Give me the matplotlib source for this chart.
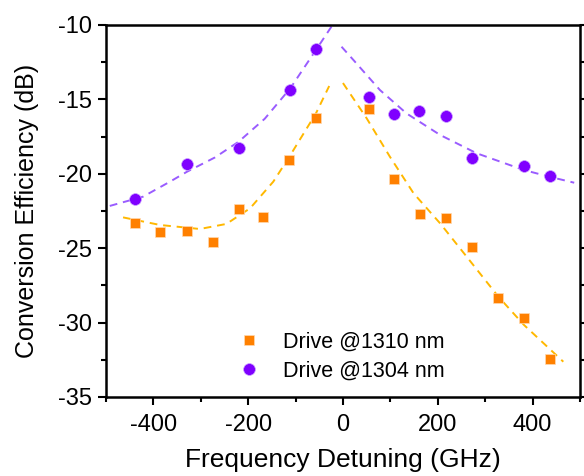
import matplotlib
matplotlib.use('Agg')
import matplotlib.pyplot as plt
from matplotlib.ticker import MultipleLocator

plt.rcParams['font.family'] = ['Liberation Sans', 'DejaVu Sans']
plt.rcParams['axes.unicode_minus'] = False

COLORS = {'1310': '#FF8000', '1304': '#7F00FF',
          'fit1310': '#FFB800', 'fit1304': '#9A5CFF'}

# measured points
det_1310 = [-439, -386, -329, -275, -220, -168, -113, -57, 54, 108, 162, 218, 272, 328, 382, 436]
eff_1310 = [-23.33, -23.89, -23.84, -24.58, -22.37, -22.88, -19.1, -16.25,
            -15.62, -20.37, -22.68, -22.95, -24.9, -28.33, -29.69, -32.47]

det_1304 = [-439, -329, -220, -111, -57, 54, 108, 161, 217, 272, 381, 436]
eff_1304 = [-21.67, -19.34, -18.25, -14.35, -11.6, -14.84, -15.96, -15.78,
            -16.09, -18.94, -19.48, -20.15]

# fit curves (left and right branch)
fit1310_left_x = [-464, -386, -302, -246, -196, -147, -113, -57, -29]
fit1310_left_y = [-22.93, -23.44, -23.71, -23.37, -22.32, -20.53, -18.85, -15.94, -14.1]
fit1310_right_x = [0, 50, 99, 149, 205, 261, 328, 382, 465]
fit1310_right_y = [-13.9, -16.27, -18.85, -21.31, -23.33, -25.57, -28.26, -30.16, -32.63]

fit1304_left_x = [-492, -422, -365, -329, -270, -220, -165, -111, -57, -22]
fit1304_left_y = [-22.16, -21.54, -20.53, -19.86, -18.9, -17.84, -16.3, -14.25, -11.68, -10.0]
fit1304_right_x = [-3, 22, 78, 134, 205, 282, 381, 436, 488]
fit1304_right_y = [-11.46, -12.35, -14.37, -15.94, -17.39, -18.62, -19.74, -20.2, -20.6]

fig = plt.figure(figsize=(5.84, 4.76), dpi=100)
ax = fig.add_axes([0.1815, 0.166, 0.8115, 0.7815])

dash = dict(linestyle=(0, (4, 3)), linewidth=1.4)
ax.plot(fit1310_left_x, fit1310_left_y, color=COLORS['fit1310'], **dash)
ax.plot(fit1310_right_x, fit1310_right_y, color=COLORS['fit1310'], **dash)
ax.plot(fit1304_left_x, fit1304_left_y, color=COLORS['fit1304'], **dash)
ax.plot(fit1304_right_x, fit1304_right_y, color=COLORS['fit1304'], **dash)

ax.plot(det_1310, eff_1310, 's', color=COLORS['1310'], markersize=7.5,
        markeredgecolor='#FFD9B0', markeredgewidth=0.5, label='Drive @1310 nm', zorder=3)
ax.plot(det_1304, eff_1304, 'o', color=COLORS['1304'], markersize=8.5,
        markeredgecolor='#C9A0FF', markeredgewidth=0.5, label='Drive @1304 nm', zorder=3)

ax.set_xlim(-500, 500)
ax.set_ylim(-35, -10)
ax.xaxis.set_major_locator(MultipleLocator(200))
ax.xaxis.set_minor_locator(MultipleLocator(100))
ax.yaxis.set_major_locator(MultipleLocator(5))
ax.yaxis.set_minor_locator(MultipleLocator(2.5))

ax.tick_params(which='both', direction='out', labelsize=17, width=1.5,
               left=True, right=True, bottom=True, top=False)
ax.tick_params(which='major', length=6, pad=4)
ax.tick_params(axis='x', which='major', pad=6)
ax.tick_params(which='minor', length=3.5)
for s in ax.spines.values():
    s.set_linewidth(1.8)

ax.set_xlabel('Frequency Detuning (GHz)', fontsize=19, labelpad=9)
ax.set_ylabel('Conversion Efficiency (dB)', fontsize=18, labelpad=14)

ax.legend(loc='upper left', bbox_to_anchor=(0.238, 0.20), frameon=False,
          fontsize=15.5, handlelength=2.0, handletextpad=0.6, labelspacing=0.4,
          borderaxespad=0.0)

fig.savefig('out.png', dpi=100)
